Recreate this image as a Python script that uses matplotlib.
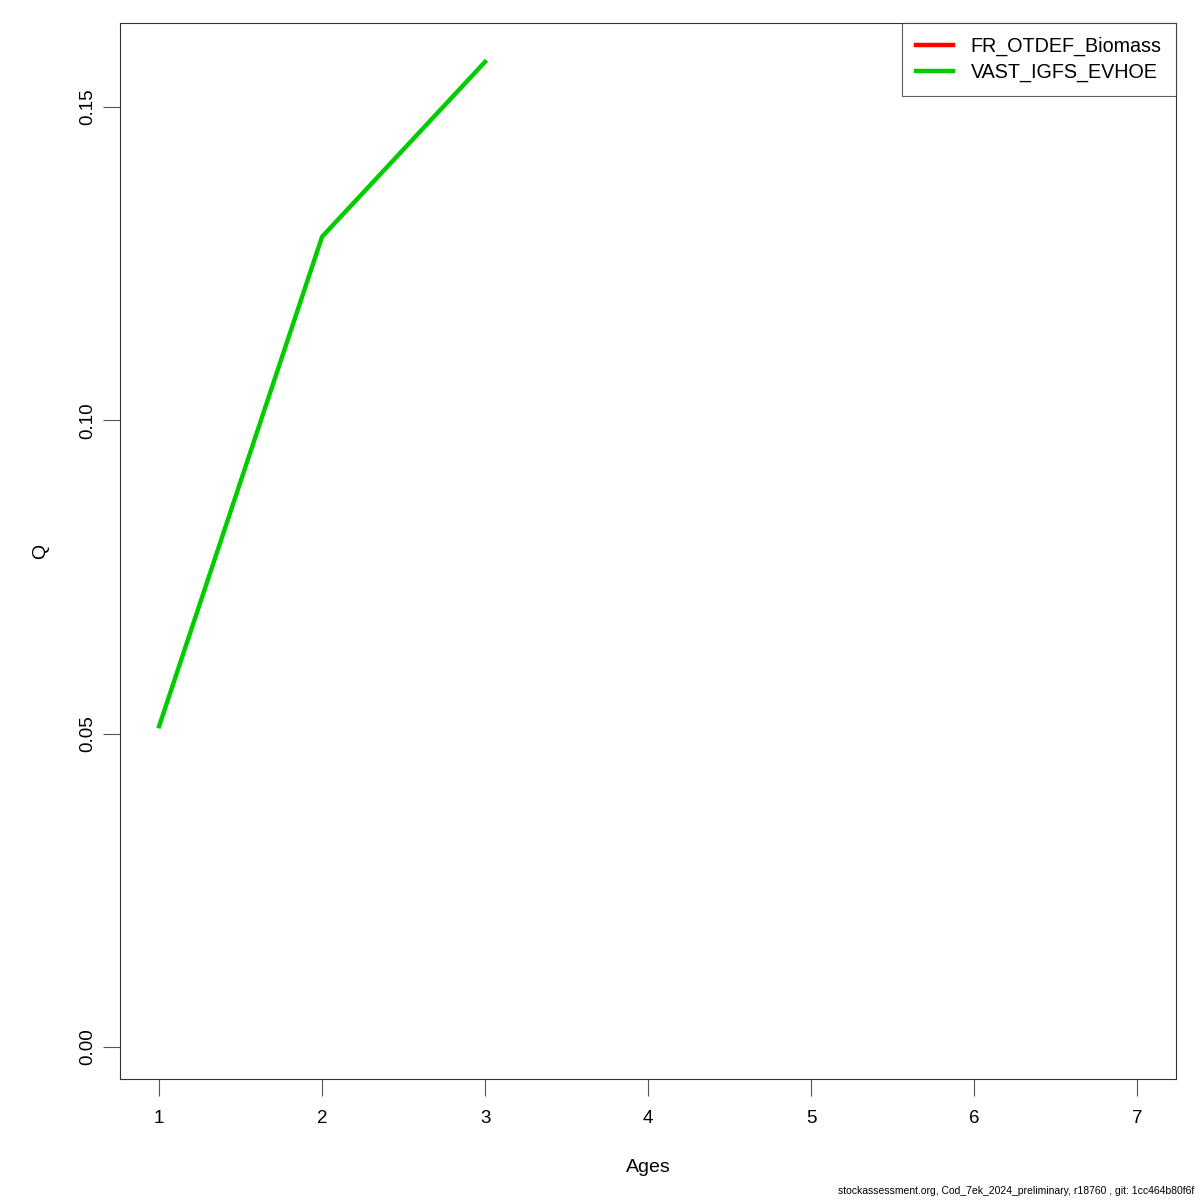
import numpy as np
import matplotlib.pyplot as plt
plt.switch_backend('agg')

ages = [1, 2, 3, 4, 5, 6, 7]
fr_otdef_q = [np.nan] * 7
vast_igfs_q = [0.0512, 0.1293, 0.1572, np.nan, np.nan, np.nan, np.nan]
yticks = [0.00, 0.05, 0.10, 0.15]
footer = "stockassessment.org, Cod_7ek_2024_preliminary, r18760 , git: 1cc464b80f6f"

plt.rcParams['font.family'] = ['Liberation Sans', 'DejaVu Sans']

fig = plt.figure(figsize=(12, 12), dpi=100)
ax = fig.add_axes([0.1, 0.1008, 0.88, 0.88])

ax.plot(ages, fr_otdef_q, color='#ff0000', lw=3.2, label='FR_OTDEF_Biomass')
ax.plot(ages, vast_igfs_q, color='#00cd00', lw=3.2, label='VAST_IGFS_EVHOE')

# R style 4% padding on x
x0, x1 = 1, 7
ax.set_xlim(x0 - 0.04 * (x1 - x0), x1 + 0.04 * (x1 - x0))
ax.set_ylim(-0.0051, 0.1634)

ax.set_xticks(ages)
ax.set_yticks(yticks)
ax.set_yticklabels(['%.2f' % v for v in yticks], rotation=90, va='center')
ax.tick_params(length=12, width=0.8, color='#555555', labelsize=13.5)
ax.tick_params(axis='x', pad=10)
ax.tick_params(axis='y', pad=5)
for s in ax.spines.values():
    s.set_linewidth(0.8)
    s.set_color('#333333')

ax.set_xlabel('Ages', fontsize=14, labelpad=23)
ax.set_ylabel('Q', fontsize=14, labelpad=22)

leg = ax.legend(loc='upper right', fontsize=14.2, frameon=True, fancybox=False,
                borderaxespad=0, handlelength=1.88, labelspacing=0.3,
                borderpad=0.72, handletextpad=0.9)
leg.get_frame().set_edgecolor('#333333')
leg.get_frame().set_linewidth(0.8)

fig.text(0.995, 0.003, footer, ha='right', va='bottom', fontsize=7.5)

fig.savefig('out.png', dpi=100)
